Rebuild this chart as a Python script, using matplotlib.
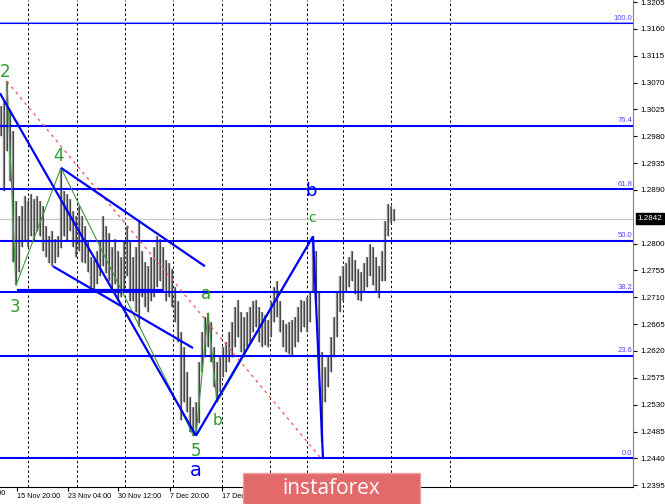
import numpy as np
import matplotlib.pyplot as plt
import matplotlib.transforms as mtransforms
from matplotlib.patches import Rectangle

# H4 bars (high / low)
highs = [1.3031, 1.3040, 1.3072, 1.3023, 1.2989, 1.2871, 1.2846, 1.2863, 1.2880, 1.2871,
         1.2883, 1.2875, 1.2880, 1.2871, 1.2863, 1.2829, 1.2812, 1.2821, 1.2807, 1.2812,
         1.2927, 1.2888, 1.2883, 1.2875, 1.2854, 1.2846, 1.2863, 1.2846, 1.2829, 1.2804,
         1.2778, 1.2773, 1.2787, 1.2804, 1.2846, 1.2829, 1.2817, 1.2795, 1.2807, 1.2787,
         1.2778, 1.2804, 1.2829, 1.2804, 1.2778, 1.2795, 1.2838, 1.2787, 1.2770, 1.2762,
         1.2778, 1.2795, 1.2812, 1.2807, 1.2795, 1.2773, 1.2767, 1.2757, 1.2728, 1.2703,
         1.2652, 1.2627, 1.2585, 1.2543, 1.2526, 1.2534, 1.2602, 1.2652, 1.2677, 1.2684,
         1.2669, 1.2627, 1.2602, 1.2610, 1.2627, 1.2635, 1.2652, 1.2669, 1.2694, 1.2706,
         1.2686, 1.2677, 1.2686, 1.2694, 1.2703, 1.2706, 1.2694, 1.2686, 1.2681, 1.2672,
         1.2703, 1.2728, 1.2738, 1.2703, 1.2672, 1.2666, 1.2669, 1.2672, 1.2677, 1.2694,
         1.2706, 1.2703, 1.2711, 1.2720, 1.2812, 1.2787, 1.2720, 1.2618, 1.2593, 1.2610,
         1.2644, 1.2677, 1.2720, 1.2745, 1.2762, 1.2767, 1.2778, 1.2787, 1.2773, 1.2757,
         1.2753, 1.2767, 1.2778, 1.2800, 1.2795, 1.2778, 1.2762, 1.2787, 1.2838, 1.2866,
         1.2863, 1.2858]
lows = [1.2981, 1.2888, 1.2956, 1.2905, 1.2770, 1.2731, 1.2753, 1.2795, 1.2804, 1.2795,
        1.2812, 1.2804, 1.2821, 1.2812, 1.2787, 1.2778, 1.2767, 1.2762, 1.2767, 1.2778,
        1.2792, 1.2812, 1.2804, 1.2821, 1.2795, 1.2778, 1.2787, 1.2770, 1.2767, 1.2753,
        1.2728, 1.2720, 1.2733, 1.2745, 1.2762, 1.2750, 1.2737, 1.2720, 1.2733, 1.2703,
        1.2711, 1.2720, 1.2745, 1.2703, 1.2703, 1.2686, 1.2661, 1.2711, 1.2694, 1.2686,
        1.2703, 1.2711, 1.2728, 1.2737, 1.2720, 1.2703, 1.2711, 1.2694, 1.2669, 1.2635,
        1.2504, 1.2534, 1.2517, 1.2484, 1.2478, 1.2480, 1.2500, 1.2585, 1.2610, 1.2627,
        1.2602, 1.2559, 1.2534, 1.2551, 1.2576, 1.2585, 1.2602, 1.2610, 1.2627, 1.2644,
        1.2618, 1.2610, 1.2627, 1.2635, 1.2652, 1.2661, 1.2635, 1.2627, 1.2630, 1.2627,
        1.2644, 1.2669, 1.2677, 1.2652, 1.2627, 1.2618, 1.2615, 1.2613, 1.2627, 1.2635,
        1.2652, 1.2661, 1.2652, 1.2669, 1.2720, 1.2703, 1.2585, 1.2467, 1.2534, 1.2559,
        1.2585, 1.2610, 1.2644, 1.2686, 1.2703, 1.2720, 1.2728, 1.2737, 1.2716, 1.2706,
        1.2703, 1.2720, 1.2728, 1.2745, 1.2731, 1.2720, 1.2708, 1.2737, 1.2737, 1.2812,
        1.2834, 1.2838]
last_price = 1.2842

# Fibonacci grid
fib_low, fib_high = 1.2440, 1.3170
fib_ratios = [0.0, 0.236, 0.382, 0.5, 0.618, 0.764, 1.0]
fib_names = ['0.0', '23.6', '38.2', '50.0', '61.8', '76.4', '100.0']

# price axis ticks
y_ticks = [1.3205, 1.3160, 1.3115, 1.3070, 1.3025, 1.2980, 1.2935, 1.2890,
           1.2800, 1.2755, 1.2710, 1.2665, 1.2620, 1.2575, 1.2530, 1.2485, 1.2440, 1.2395]

# time axis (bar index)
grid_bars = [9, 25.33, 41.33, 57.33, 73.67, 89.67, 102, 114, 130, 149.67]
time_pos = [-11.7, 5.33, 22.33, 39, 56.33, 73.67]
time_labels = ['8 Nov 12:00', '15 Nov 20:00', '23 Nov 04:00', '30 Nov 12:00', '7 Dec 20:00', '17 Dec 04:00']

# wave marks (bar index, price)
p2 = (2, 1.3072)
p3 = (5, 1.2730)
p4 = (20, 1.2927)
p5 = (65, 1.2478)
pa = (69, 1.2684)
pb = (72, 1.2534)
pc = (104, 1.2812)
p_low = (107.33, 1.2440)

blue_lines = [
    [(-0.33, 1.3052), p5],
    [p4, (68, 1.2762)],
    [(5.33, 1.2723), (54, 1.2723)],
    [(17.33, 1.2762), (64, 1.2625)],
    [p5, pc],
    [pc, p_low],
]
green_path = [p2, p3, p4, (64, 1.2480), p5, pa, pb, pc]
red_line = [p2, (106.67, 1.2440)]

labels = [
    ('2', 1.33, 1.3087, '#2e9b2e', 12),
    ('3', 4.67, 1.2694, '#2e9b2e', 12),
    ('4', 19.33, 1.2947, '#2e9b2e', 12),
    ('5', 65, 1.2453, '#2e9b2e', 12),
    ('a', 68.33, 1.2716, '#2e9b2e', 12),
    ('b', 72.33, 1.2504, '#2e9b2e', 11),
    ('c', 103.67, 1.2843, '#2e9b2e', 10),
    ('a', 65, 1.2420, '#0000ff', 14),
    ('b', 103.33, 1.2888, '#0000ff', 13),
    ('c', 107.33, 1.2407, '#0000ff', 13),
]

font = 'Liberation Sans'

fig = plt.figure(figsize=(6.65, 5.04), dpi=100)
fig.patch.set_facecolor('white')
ax = fig.add_axes([0, 17 / 504, 633 / 665, 487 / 504])
ax.set_xlim(-0.33, 210.67)
ax.set_ylim(1.2392, 1.32084)

blend = mtransforms.blended_transform_factory(ax.transAxes, ax.transData)

for g in grid_bars:
    ax.axvline(g, color='black', lw=0.7, ls=(0, (2.5, 2.5)), zorder=1)

ax.axhline(last_price, color='#c8c8c8', lw=0.9, zorder=1)

bx = np.arange(len(highs))
ax.vlines(bx, lows, highs, color='#8a8a8a', lw=1.7, zorder=2)
ax.vlines(bx, lows, highs, color='#2a2a2a', lw=0.5, zorder=2)

for r, name in zip(fib_ratios, fib_names):
    lvl = fib_low + r * (fib_high - fib_low)
    ax.axhline(lvl, color='#0000ff', lw=1.5, zorder=3)
    ax.text(0.999, lvl + 0.0002, name, transform=blend, ha='right', va='bottom',
            fontsize=5.5, color='#4a4aff', family=font, zorder=5)
ax.axhline(fib_high + 0.00022, color='#9a9aff', lw=0.7, zorder=3)

ax.plot([q[0] for q in red_line], [q[1] for q in red_line], color='#ff5a5a',
        lw=1.0, ls=(0, (2, 3)), zorder=3)
ax.plot([q[0] for q in green_path], [q[1] for q in green_path], color='#3a9a3a', lw=0.8, zorder=4)
for seg in blue_lines:
    ax.plot([seg[0][0], seg[1][0]], [seg[0][1], seg[1][1]], color='#0000ff', lw=1.6,
            solid_capstyle='butt', zorder=4)

for txt, x, y, col, fs in labels:
    ax.text(x, y, txt, color=col, fontsize=fs, ha='center', va='center', zorder=6)

# axes styling
for s in ['top', 'left']:
    ax.spines[s].set_visible(False)
ax.spines['right'].set_color('#808080')
ax.spines['bottom'].set_color('black')
ax.yaxis.tick_right()
ax.set_yticks(y_ticks)
ax.set_yticklabels([f'{t:.4f}' for t in y_ticks])
ax.tick_params(axis='y', length=3, width=0.8, labelsize=5.8, pad=2, colors='black')
ax.set_xticks(time_pos[1:])
ax.set_xticklabels(time_labels[1:], ha='left')
ax.tick_params(axis='x', length=3, width=0.8, labelsize=5.2, pad=1.5)
for lab in ax.get_xticklabels() + ax.get_yticklabels():
    lab.set_family(font)
ax.text(time_pos[0], -0.007, time_labels[0],
        transform=mtransforms.blended_transform_factory(ax.transData, ax.transAxes),
        ha='left', va='top', fontsize=5.2, family=font, clip_on=False)

ax.annotate(f'{last_price:.4f}', xy=(1.0, last_price), xycoords=blend, xytext=(3, 0),
            textcoords='offset points', ha='left', va='center', fontsize=5.8, color='white',
            family=font,
            bbox=dict(boxstyle='square,pad=0.2', fc='black', ec='black'))

# watermark banner
fig.patches.append(Rectangle((243 / 665, 0), 177 / 665, 31 / 504, transform=fig.transFigure,
                             fc='#e26a6a', ec='#eaa0a0', lw=1, zorder=10))
fig.text(331 / 665, 15.5 / 504, 'instaforex', color='white', fontsize=15, family='Open Sans',
         ha='center', va='center', zorder=11)

fig.savefig('out.png', dpi=100, facecolor='white')
